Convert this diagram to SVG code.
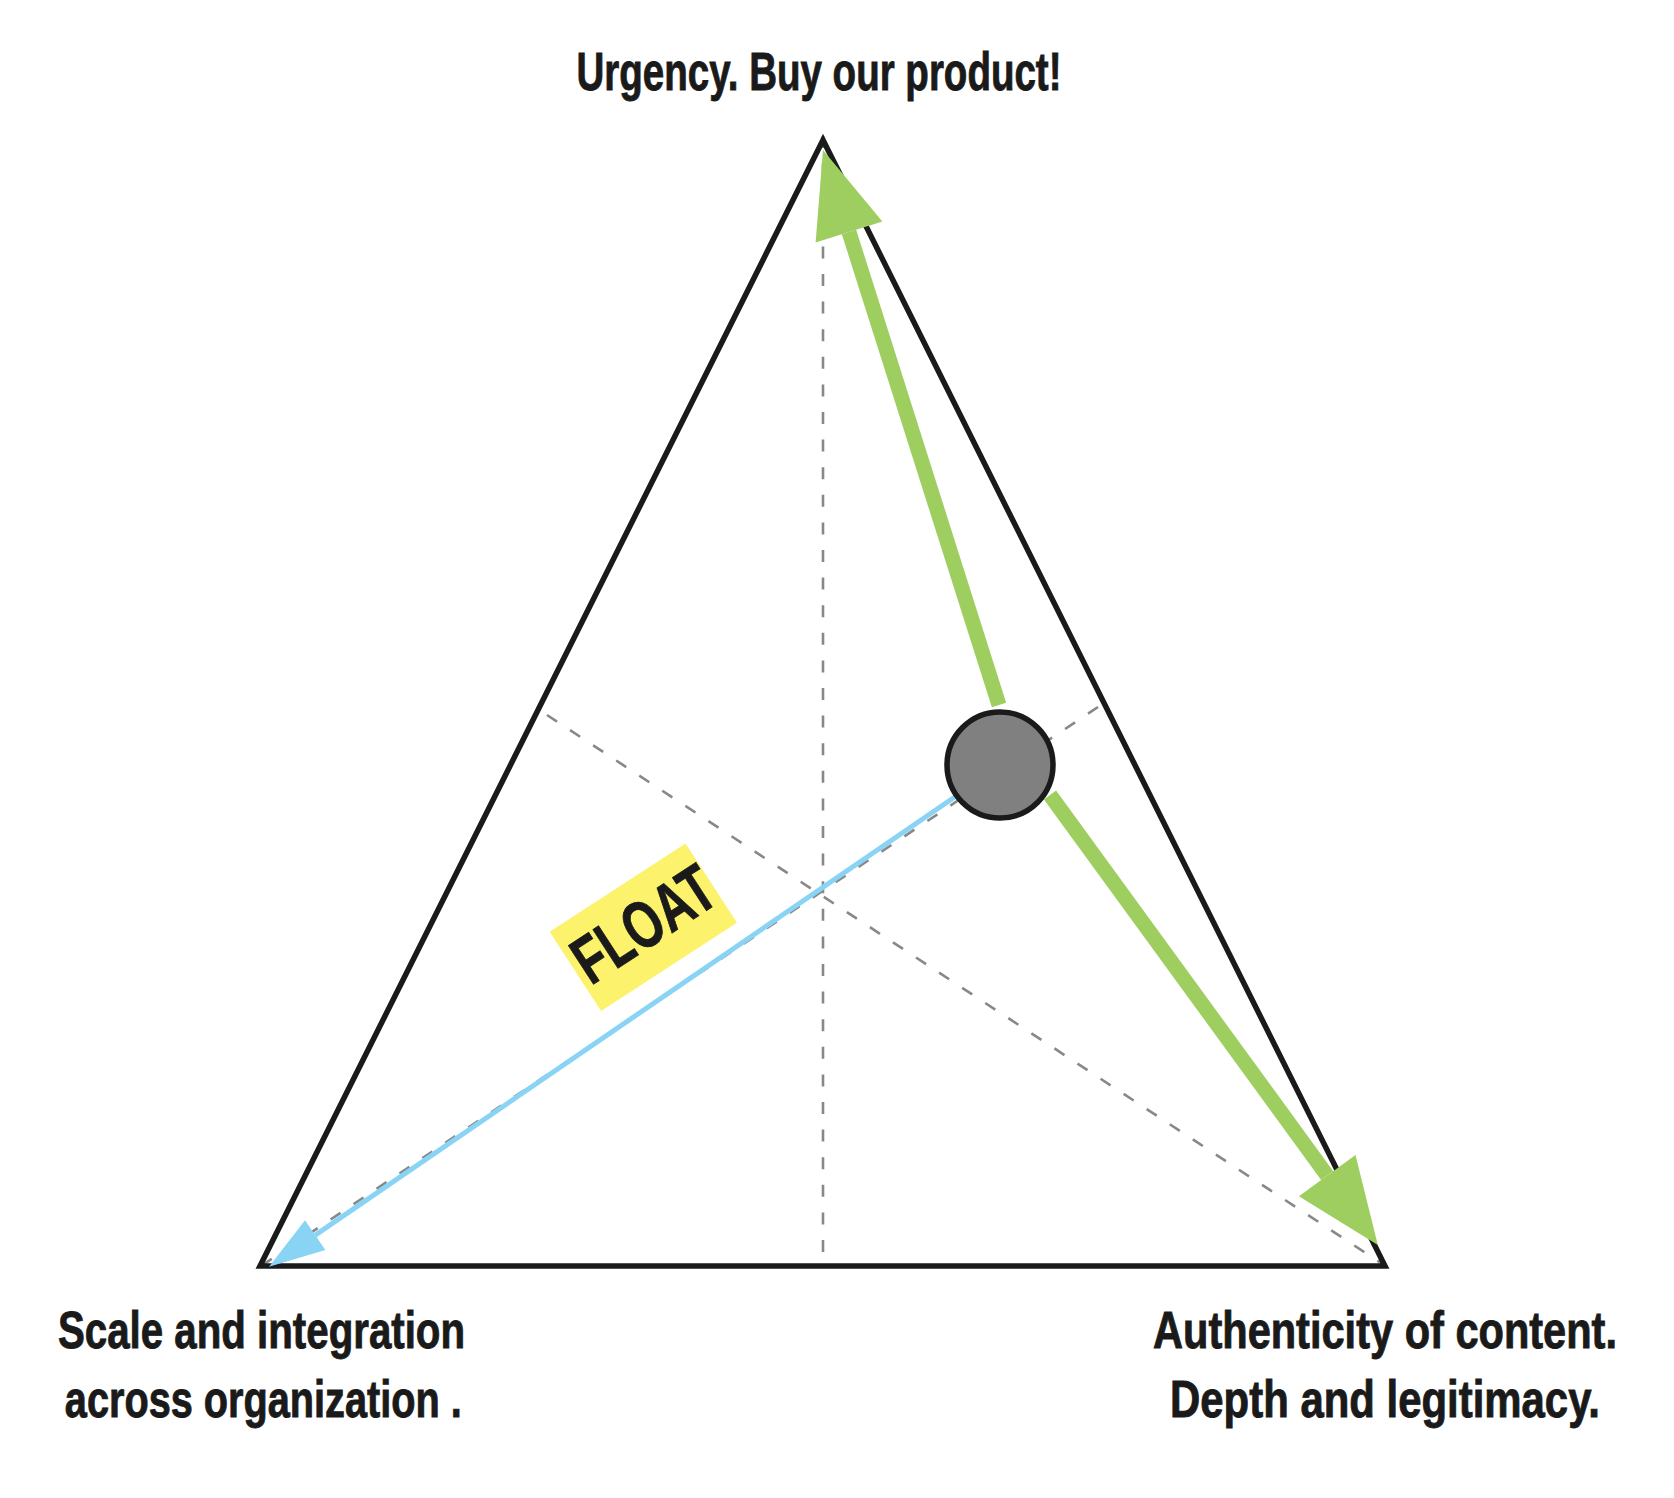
<svg xmlns="http://www.w3.org/2000/svg" width="1674" height="1498" viewBox="0 0 1674 1498">
<style>
.lbl{font-family:"Liberation Sans","DejaVu Sans",sans-serif;font-weight:bold;fill:#1a1a1a;stroke:#1a1a1a;stroke-width:0.9;text-anchor:middle}
.dash{stroke:#888888;stroke-width:2.6;stroke-dasharray:12 15.6;fill:none}
.green{stroke:#9dce5f;stroke-width:15;fill:none}
.blue{stroke:#89d4f5;stroke-width:5;fill:none}
</style>
<defs>
<marker id="gHead" markerUnits="userSpaceOnUse" markerWidth="86" markerHeight="70" refX="0" refY="35" orient="auto" overflow="visible">
<path d="M0,0 L86,35 L0,70 Z" fill="#9dce5f"/>
</marker>
<marker id="bHead" markerUnits="userSpaceOnUse" markerWidth="56" markerHeight="36" refX="0" refY="18" orient="auto" overflow="visible">
<path d="M0,0 L56,18 L0,36 Z" fill="#89d4f5"/>
</marker>
</defs>
<rect width="1674" height="1498" fill="#ffffff"/>
<g id="guides">
<line class="dash" x1="823" y1="136" x2="823" y2="1266"/>
<line class="dash" x1="547" y1="715" x2="1387" y2="1267"/>
<line class="dash" x1="1098" y1="707" x2="261" y2="1266"/>
</g>
<g id="triangle">
<polygon points="823,140 260,1266 1385,1266" fill="none" stroke="#1a1a1a" stroke-width="5.5" stroke-linejoin="miter"/>
</g>
<g id="connectors">
<line class="blue" x1="1000" y1="766" x2="315.2" y2="1235.1" marker-end="url(#bHead)"/>
<line class="green" x1="999" y1="705" x2="849" y2="232" marker-end="url(#gHead)"/>
<line class="green" x1="1050" y1="795" x2="1327.2" y2="1175.6" marker-end="url(#gHead)"/>
</g>
<g id="point">
<circle cx="1000" cy="765" r="53" fill="#808080" stroke="#1a1a1a" stroke-width="5.5"/>
</g>
<g id="float-label" transform="translate(643.3,927.3) rotate(-33)">
<rect x="-81" y="-47.2" width="162" height="94.4" fill="#fcf26b"/>
<text class="lbl" transform="translate(2,20.5) scale(0.72,1)" font-size="67" textLength="216.7" lengthAdjust="spacingAndGlyphs">FLOAT</text>
</g>
<g id="label-top">
<text class="lbl" transform="translate(819,90) scale(0.74,1)" font-size="53" textLength="655.4" lengthAdjust="spacingAndGlyphs">Urgency. Buy our product!</text>
</g>
<g id="label-left">
<text class="lbl" transform="translate(261.5,1348) scale(0.74,1)" font-size="51" textLength="550" lengthAdjust="spacingAndGlyphs">Scale and integration</text>
<text class="lbl" transform="translate(263.3,1416.5) scale(0.74,1)" font-size="51" textLength="536.5" lengthAdjust="spacingAndGlyphs">across organization .</text>
</g>
<g id="label-right">
<text class="lbl" transform="translate(1385,1348) scale(0.74,1)" font-size="51" textLength="627" lengthAdjust="spacingAndGlyphs">Authenticity of content.</text>
<text class="lbl" transform="translate(1385,1416.5) scale(0.74,1)" font-size="51" textLength="581" lengthAdjust="spacingAndGlyphs">Depth and legitimacy.</text>
</g>
</svg>
